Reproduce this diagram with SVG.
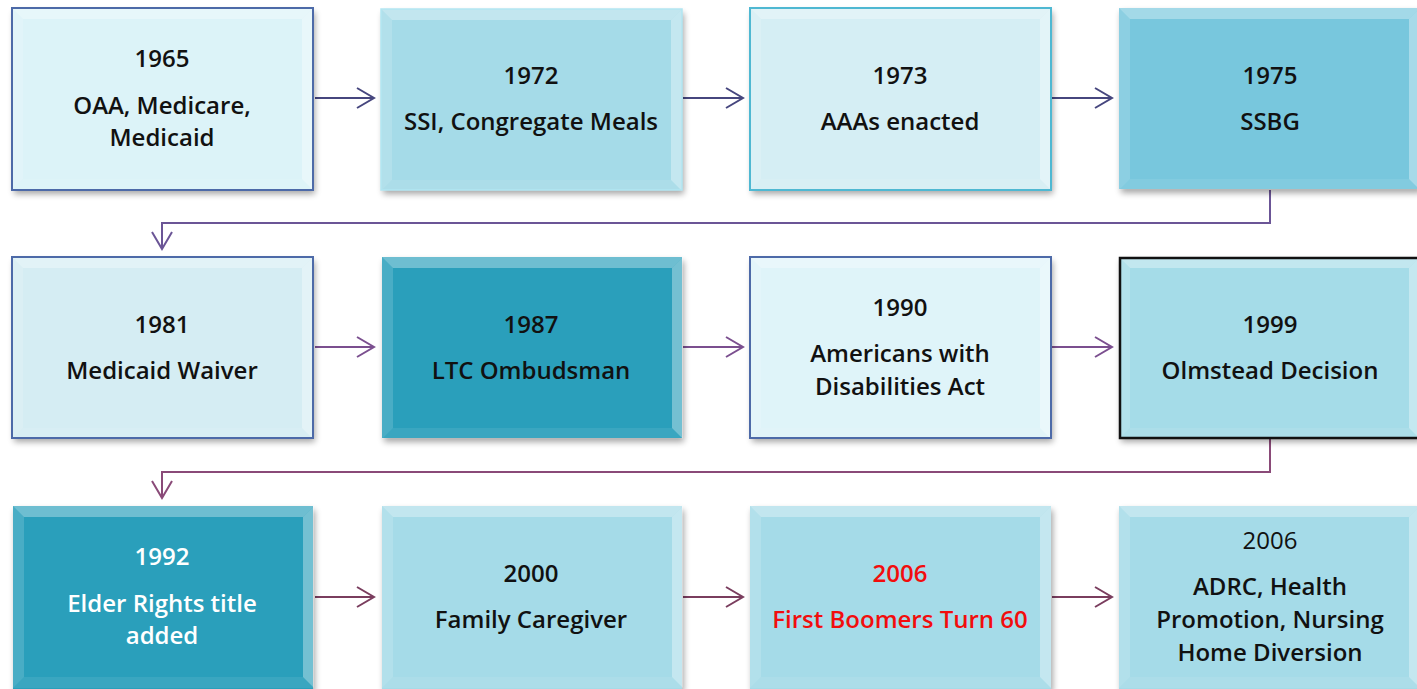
<svg xmlns="http://www.w3.org/2000/svg" width="1417" height="689" viewBox="0 0 1417 689">
<style>
.t{font-family:"Open Sans","Noto Sans","DejaVu Sans",sans-serif;font-size:24px;text-anchor:middle;fill:#111}
.b{font-weight:600}
.y{font-weight:600}
.w{fill:#ffffff}
.r{fill:#f20d0d}
.c{fill:none;stroke-width:2}
</style>
<defs>
<filter id="sh" x="-5%" y="-5%" width="112%" height="115%">
<feGaussianBlur in="SourceAlpha" stdDeviation="3"/>
<feOffset dx="2" dy="4" result="o"/>
<feComponentTransfer><feFuncA type="linear" slope="0.35"/></feComponentTransfer>
<feMerge><feMergeNode/><feMergeNode in="SourceGraphic"/></feMerge>
</filter>
<g id="bev">
<polygon points="0,0 301,0 290,11 11,11" fill="#ffffff" fill-opacity="0.32"/>
<polygon points="0,0 11,11 11,171 0,182" fill="#ffffff" fill-opacity="0.15"/>
<polygon points="301,0 301,182 290,171 290,11" fill="#ffffff" fill-opacity="0.35"/>
<polygon points="0,182 11,171 290,171 301,182" fill="#ffffff" fill-opacity="0.08"/>
</g>
<marker id="a1" markerUnits="userSpaceOnUse" markerWidth="24" markerHeight="24" viewBox="-20 -12 24 24" refX="0" refY="0" orient="auto"><path d="M-17,-10 L0,0 L-17,10" fill="none" stroke="#46467e" stroke-width="2"/></marker>
<marker id="a2" markerUnits="userSpaceOnUse" markerWidth="24" markerHeight="24" viewBox="-20 -12 24 24" refX="0" refY="0" orient="auto"><path d="M-17,-10 L0,0 L-17,10" fill="none" stroke="#6b5596" stroke-width="2"/></marker>
<marker id="a3" markerUnits="userSpaceOnUse" markerWidth="24" markerHeight="24" viewBox="-20 -12 24 24" refX="0" refY="0" orient="auto"><path d="M-17,-10 L0,0 L-17,10" fill="none" stroke="#7b4f8f" stroke-width="2"/></marker>
<marker id="a4" markerUnits="userSpaceOnUse" markerWidth="24" markerHeight="24" viewBox="-20 -12 24 24" refX="0" refY="0" orient="auto"><path d="M-17,-10 L0,0 L-17,10" fill="none" stroke="#8a4a78" stroke-width="2"/></marker>
<marker id="a5" markerUnits="userSpaceOnUse" markerWidth="24" markerHeight="24" viewBox="-20 -12 24 24" refX="0" refY="0" orient="auto"><path d="M-17,-10 L0,0 L-17,10" fill="none" stroke="#7a3d5e" stroke-width="2"/></marker>
</defs>
<rect width="1417" height="689" fill="#ffffff"/>

<g id="connectors">
<path class="c" stroke="#46467e" d="M315,98 H374" marker-end="url(#a1)"/>
<path class="c" stroke="#46467e" d="M683,98 H743" marker-end="url(#a1)"/>
<path class="c" stroke="#46467e" d="M1052,98 H1112" marker-end="url(#a1)"/>
<path class="c" stroke="#6b5596" d="M1270,190 V223 H162 V249" marker-end="url(#a2)"/>
<path class="c" stroke="#7b4f8f" d="M315,347 H374" marker-end="url(#a3)"/>
<path class="c" stroke="#7b4f8f" d="M683,347 H743" marker-end="url(#a3)"/>
<path class="c" stroke="#7b4f8f" d="M1052,347 H1112" marker-end="url(#a3)"/>
<path class="c" stroke="#8a4a78" d="M1270,439 V472 H162 V498" marker-end="url(#a4)"/>
<path class="c" stroke="#7a3d5e" d="M315,597 H374" marker-end="url(#a5)"/>
<path class="c" stroke="#7a3d5e" d="M683,597 H743" marker-end="url(#a5)"/>
<path class="c" stroke="#7a3d5e" d="M1052,597 H1112" marker-end="url(#a5)"/>
</g>

<g id="n1965">
<rect x="12" y="8" width="301" height="182" fill="#dcf3f8" filter="url(#sh)"/>
<use href="#bev" x="12" y="8"/>
<rect x="12" y="8" width="301" height="182" fill="none" stroke="#4d6aa8" stroke-width="2"/>
<text class="t y" x="162" y="67">1965</text>
<text class="t b" x="162" y="114">OAA, Medicare,</text>
<text class="t b" x="162" y="146">Medicaid</text>
</g>
<g id="n1972">
<rect x="381" y="9" width="301" height="181" fill="#a5dbe8" filter="url(#sh)"/>
<use href="#bev" x="381" y="9"/>
<rect x="381" y="9" width="301" height="181" fill="none" stroke="#b2e6f2" stroke-width="1.5"/>
<text class="t b" x="531" y="84">1972</text>
<text class="t b" x="531" y="130">SSI, Congregate Meals</text>
</g>
<g id="n1973">
<rect x="750" y="8" width="301" height="182" fill="#d5eef4" filter="url(#sh)"/>
<use href="#bev" x="750" y="8"/>
<rect x="750" y="8" width="301" height="182" fill="none" stroke="#4fb8d2" stroke-width="2"/>
<text class="t b" x="900" y="84">1973</text>
<text class="t b" x="900" y="130">AAAs enacted</text>
</g>
<g id="n1975">
<rect x="1119" y="8" width="301" height="181" fill="#78c7dd" filter="url(#sh)"/>
<use href="#bev" x="1119" y="8"/>
<text class="t y" x="1270" y="84">1975</text>
<text class="t b" x="1270" y="130">SSBG</text>
</g>

<g id="n1981">
<rect x="12" y="257" width="301" height="181" fill="#d5edf3" filter="url(#sh)"/>
<use href="#bev" x="12" y="257"/>
<rect x="12" y="257" width="301" height="181" fill="none" stroke="#4d6aa8" stroke-width="2"/>
<text class="t y" x="162" y="333">1981</text>
<text class="t b" x="162" y="379">Medicaid Waiver</text>
</g>
<g id="n1987">
<rect x="382" y="257" width="300" height="181" fill="#2a9fbb" filter="url(#sh)"/>
<use href="#bev" x="382" y="257"/>
<text class="t y" x="531" y="333">1987</text>
<text class="t b" x="531" y="379">LTC Ombudsman</text>
</g>
<g id="n1990">
<rect x="750" y="257" width="301" height="181" fill="#dff4f9" filter="url(#sh)"/>
<use href="#bev" x="750" y="257"/>
<rect x="750" y="257" width="301" height="181" fill="none" stroke="#4d6aa8" stroke-width="2"/>
<text class="t y" x="900" y="316">1990</text>
<text class="t b" x="900" y="362">Americans with</text>
<text class="t b" x="900" y="395">Disabilities Act</text>
</g>
<g id="n1999">
<rect x="1119" y="257" width="301" height="181" fill="#a5dce8" filter="url(#sh)"/>
<use href="#bev" x="1119" y="257"/>
<rect x="1120" y="258" width="301" height="180" fill="none" stroke="#111111" stroke-width="2.5"/>
<text class="t y" x="1270" y="333">1999</text>
<text class="t b" x="1270" y="379">Olmstead Decision</text>
</g>

<g id="n1992">
<rect x="13" y="506" width="300" height="183" fill="#2a9fbb" filter="url(#sh)"/>
<use href="#bev" x="13" y="506"/>
<text class="t y w" x="162" y="565">1992</text>
<text class="t b w" x="162" y="612">Elder Rights title</text>
<text class="t b w" x="162" y="644">added</text>
</g>
<g id="n2000">
<rect x="382" y="506" width="300" height="183" fill="#a5dbe8" filter="url(#sh)"/>
<use href="#bev" x="382" y="506"/>
<text class="t b" x="531" y="582">2000</text>
<text class="t b" x="531" y="628">Family Caregiver</text>
</g>
<g id="n2006a">
<rect x="750" y="506" width="301" height="183" fill="#a5dbe8" filter="url(#sh)"/>
<use href="#bev" x="750" y="506"/>
<text class="t b r" x="900" y="582">2006</text>
<text class="t b r" x="900" y="628">First Boomers Turn 60</text>
</g>
<g id="n2006b">
<rect x="1119" y="506" width="301" height="183" fill="#a5dbe8" filter="url(#sh)"/>
<use href="#bev" x="1119" y="506"/>
<text class="t" x="1270" y="549">2006</text>
<text class="t b" x="1270" y="595">ADRC, Health</text>
<text class="t b" x="1270" y="628">Promotion, Nursing</text>
<text class="t b" x="1270" y="661">Home Diversion</text>
</g>
</svg>
